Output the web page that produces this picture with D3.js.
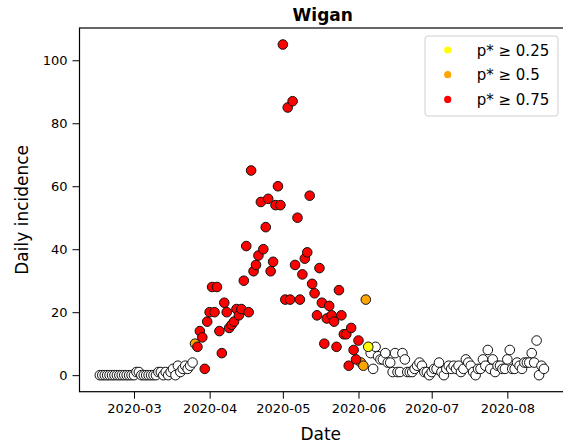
<!DOCTYPE html>
<html>
<head>
<meta charset="utf-8">
<script src="https://cdn.jsdelivr.net/npm/d3@7"></script>
<style>
  body { margin: 0; background: #fff; }
  text { font-family: "DejaVu Sans", sans-serif; }
</style>
</head>
<body>
<div id="chart"></div>
<script>
// ==================== données ====================//
// incidence journalière, un tableau par mois (à partir du 16 février)
const startDate = "2020-02-16";
const incFeb = [0,0,0,0,0,0,0,0,0,0,0,0,0,0];
const incMar = [0,1,1,0,0,0,0,0, 0,0,1,1,0,1,0,1, 2,0,3,1,2,3,2,3, 4,10,9,14,12,2,17];
const incApr = [20,28,20,28,14,7,23,20,15,16,17,21,19,21,30,41,20,65,33,35,38,55,40,47,56,33,36,54,60,54];
const incMay = [105,24,85,24,87,35,50,24,32,37,39,57,29,26,19,34,23,10,18,22,19,17,9,27,19,13,13,3,15,8,5];
const incJun = [11,4,3,24,9,7,2,9,6,5,5,7,4,4,1,7,1,1,7,5,1,1,1,2,3,4,3,1,1,0];
const incJul = [1,2,2,4,1,0,2,3,2,3,2,3,1,2,5,4,3,1,0,2,2,5,3,8,2,5,1,3,3,2,2];
const incAug = [5,8,2,2,4,3,2,4,4,4,7,4,11,0,3,2];

// classe de p* : 0 = aucune, 1 = >= 0.25, 2 = >= 0.5, 3 = >= 0.75
const bandFeb = [0,0,0,0,0,0,0,0,0,0,0,0,0,0];
const bandMar = [0,0,0,0,0,0,0,0,0,0,0,0,0,0,0,0,0,0,0,0,0,0,0,0,0,2,3,3,3,3,3];
const bandApr = [3,3,3,3,3,3,3,3,3,3,3,3,3,3,3,3,3,3,3,3,3,3,3,3,3,3,3,3,3,3];
const bandMay = [3,3,3,3,3,3,3,3,3,3,3,3,3,3,3,3,3,3,3,3,3,3,3,3,3,3,3,3,3,3,3];
const bandJun = [3,2,2,2,1,0,0,0,0,0,0,0,0,0,0,0,0,0,0,0,0,0,0,0,0,0,0,0,0,0];
const bandJul = [0,0,0,0,0,0,0,0,0,0,0,0,0,0,0,0,0,0,0,0,0,0,0,0,0,0,0,0,0,0,0];
const bandAug = [0,0,0,0,0,0,0,0,0,0,0,0,0,0,0,0];

const bandColors = ["#ffffff", "#ffff00", "#ffa500", "#ff0000"];
const legendLabels = ["p* \u2265 0.25", "p* \u2265 0.5", "p* \u2265 0.75"];
const yTicks = [0, 20, 40, 60, 80, 100];
const xTickDates = ["2020-03-01","2020-04-01","2020-05-01","2020-06-01","2020-07-01","2020-08-01"];

const incidence = [].concat(incFeb, incMar, incApr, incMay, incJun, incJul, incAug);
const bands = [].concat(bandFeb, bandMar, bandApr, bandMay, bandJun, bandJul, bandAug);

const parse = d3.utcParse("%Y-%m-%d");
const t0 = parse(startDate);
const data = incidence.map((v, i) => ({
    date: d3.utcDay.offset(t0, i),
    value: v,
    band: bands[i]
}));

// ==================== mise en page ====================//
const width = 563;
const height = 446;
const plot = { left: 79.5, right: 566, top: 28, bottom: 391.7 };

const svg = d3.select("#chart")
    .append("svg")
    .attr("width", width)
    .attr("height", height);

const x = d3.scaleUtc()
    .domain([d3.utcHour.offset(parse("2020-03-01"), -536), d3.utcHour.offset(parse("2020-03-01"), 4249)])
    .range([plot.left, plot.right]);

const y = d3.scaleLinear()
    .domain([-5.25, 110.25])
    .range([plot.bottom, plot.top]);

// axes
const xAxis = d3.axisBottom(x)
    .tickValues(xTickDates.map(parse))
    .tickFormat(d3.utcFormat("%Y-%m"))
    .tickSizeInner(7)
    .tickSizeOuter(0)
    .tickPadding(5);

const yAxis = d3.axisLeft(y)
    .tickValues(yTicks)
    .tickSizeInner(7)
    .tickSizeOuter(0)
    .tickPadding(5);

const gx = svg.append("g")
    .attr("transform", `translate(0,${plot.bottom})`)
    .call(xAxis);
const gy = svg.append("g")
    .attr("transform", `translate(${plot.left},0)`)
    .call(yAxis);

[gx, gy].forEach(g => {
    g.select(".domain").remove();
    g.selectAll("line").attr("stroke", "#000").attr("stroke-width", 1);
    g.selectAll("text").attr("fill", "#000").style("font-size", "13px");
});

// cadre
svg.append("rect")
    .attr("x", plot.left)
    .attr("y", plot.top)
    .attr("width", plot.right - plot.left)
    .attr("height", plot.bottom - plot.top)
    .attr("fill", "none")
    .attr("stroke", "#000")
    .attr("stroke-width", 1.2);

// points : blancs d'abord, puis jaune, orange, rouge
const order = [0, 1, 2, 3];
order.forEach(b => {
    svg.append("g")
        .selectAll("circle")
        .data(data.filter(d => d.band === b))
        .enter()
        .append("circle")
        .attr("cx", d => x(d.date))
        .attr("cy", d => y(d.value))
        .attr("r", 4.8)
        .attr("fill", bandColors[b])
        .attr("stroke", "#111")
        .attr("stroke-width", 1);
});

// titres
svg.append("text")
    .attr("x", (plot.left + plot.right) / 2)
    .attr("y", 21)
    .attr("text-anchor", "middle")
    .style("font-size", "17px")
    .style("font-weight", "bold")
    .text("Wigan");

svg.append("text")
    .attr("x", (plot.left + plot.right) / 2 - 2)
    .attr("y", 440)
    .attr("text-anchor", "middle")
    .style("font-size", "17px")
    .text("Date");

svg.append("text")
    .attr("transform", `translate(28,${(plot.top + plot.bottom) / 2}) rotate(-90)`)
    .attr("text-anchor", "middle")
    .style("font-size", "17px")
    .text("Daily incidence");

// légende
const legend = svg.append("g").attr("transform", "translate(425,36)");
legend.append("rect")
    .attr("width", 133)
    .attr("height", 80)
    .attr("rx", 3)
    .attr("fill", "#fff")
    .attr("fill-opacity", 0.8)
    .attr("stroke", "#d0d0d0");

legendLabels.forEach((label, i) => {
    const row = legend.append("g").attr("transform", `translate(0,${14 + i * 24.7})`);
    row.append("circle")
        .attr("cx", 22.7)
        .attr("cy", 0)
        .attr("r", 3.6)
        .attr("fill", bandColors[i + 1]);
    row.append("text")
        .attr("x", 51.7)
        .attr("y", 5.5)
        .style("font-size", "15px")
        .text(label);
});
</script>
</body>
</html>
